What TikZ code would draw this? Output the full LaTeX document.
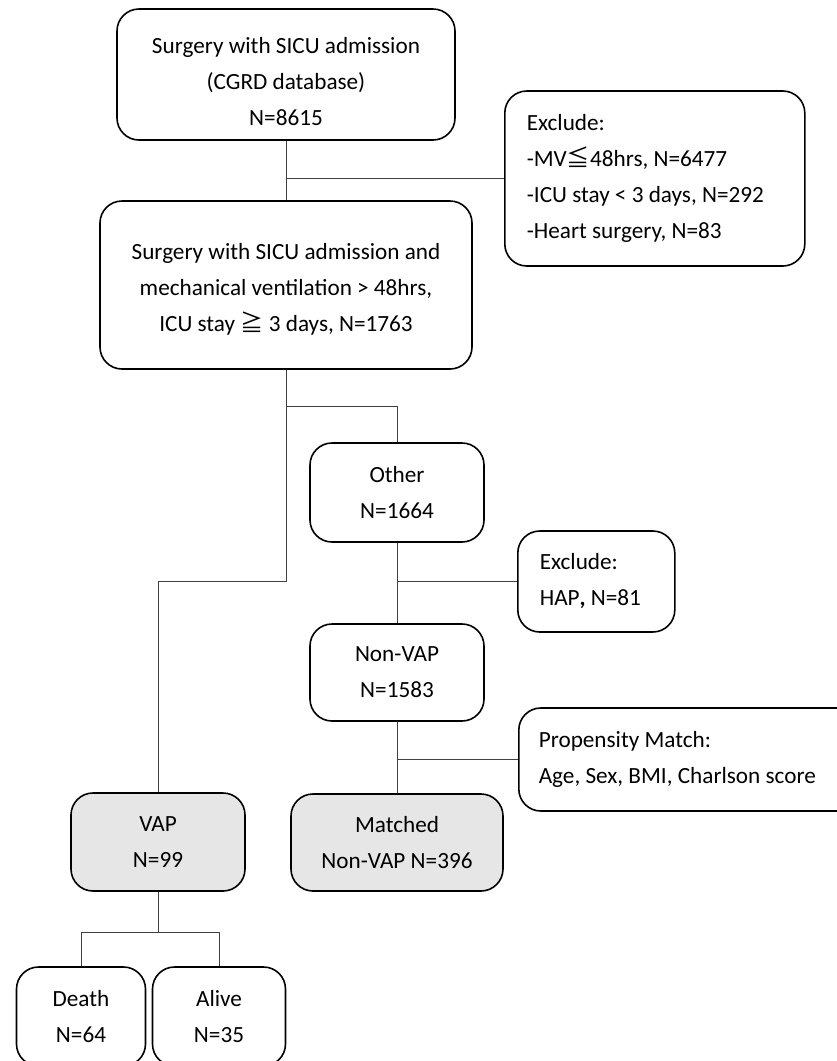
\documentclass[tikz,border=0pt]{standalone}
\usepackage{fontspec}
\setmainfont{Carlito}
\newfontfamily\cjk{Noto Sans CJK SC}
\definecolor{boxgray}{RGB}{231,230,230}
\frenchspacing

\begin{document}
\begin{tikzpicture}[x=1pt, y=-1pt, font=\fontsize{23.2}{36}\selectfont]
        \tikzset{
            box/.style={
                draw=black,
                line width=1.6pt,
                rounded corners=22pt,
                align=center,
                inner sep=0pt
            },
            shaded/.style={box, fill=boxgray},
            note/.style={box, anchor=west, align=flush left, inner xsep=22pt},
            link/.style={draw=black!75, line width=1pt}
        }

        \useasboundingbox (0,0) rectangle (837,1061);

        \coordinate (forkA) at (286,406);
        \coordinate (forkB) at (286,581);
        \coordinate (forkC) at (158,932);

        \node[box, minimum width=338pt, minimum height=131pt] (source) at (286,74.5)
            {\rule{0pt}{30pt}Surgery with SICU admission\\(CGRD database)\\N=8615};
        \node[note, text width=256pt, minimum height=175pt] (exclA) at (504,178.5)
            {Exclude:\\-MV{\cjk ≦}48hrs, N=6477\\-ICU stay < 3 days, N=292\\-Heart surgery, N=83};
        \node[box, minimum width=372pt, minimum height=168pt] (cohort) at (286,285)
            {\rule{0pt}{25pt}Surgery with SICU admission and\\mechanical ventilation > 48hrs,\\ICU stay {\cjk ≧} 3 days, N=1763};

        \node[box, minimum width=174pt, minimum height=99pt] (other) at (397,492.5)
            {Other\\N=1664};
        \node[note, text width=113pt, minimum height=101pt] (exclB) at (517,581.5)
            {Exclude:\\HAP\textbf{,} N=81};
        \node[box, minimum width=174pt, minimum height=97pt] (nonvap) at (397,672.5)
            {Non-VAP\\N=1583};
        \node[note, inner xsep=20pt, text width=300pt, minimum height=103pt] (propensity) at (518,759.5)
            {Propensity Match:\\Age, Sex, BMI, Charlson score};

        \node[shaded, minimum width=174pt, minimum height=98pt] (vap) at (158,842)
            {VAP\\N=99};
        \node[shaded, minimum width=212pt, minimum height=97pt] (matched) at (397,842.5)
            {Matched\\Non-VAP N=396};
        \node[box, minimum width=129pt, minimum height=99pt] (death) at (81,1016.5)
            {Death\\N=64};
        \node[box, minimum width=133pt, minimum height=99pt] (alive) at (219,1016.5)
            {Alive\\N=35};

        \draw[link] (source.south) -- (cohort.north);
        \draw[link] (source.south |- exclA.west) -- (exclA.west);
        \draw[link] (cohort.south) -- (forkB) -| (vap.north);
        \draw[link] (forkA) -| (other.north);
        \draw[link] (other.south) -- (nonvap.north);
        \draw[link] (other.south |- exclB.west) -- (exclB.west);
        \draw[link] (nonvap.south) -- (matched.north);
        \draw[link] (nonvap.south |- propensity.west) -- (propensity.west);
        \draw[link] (vap.south) -- (forkC) -| (death.north);
        \draw[link] (forkC) -| (alive.north);
    \end{tikzpicture}
\end{document}
